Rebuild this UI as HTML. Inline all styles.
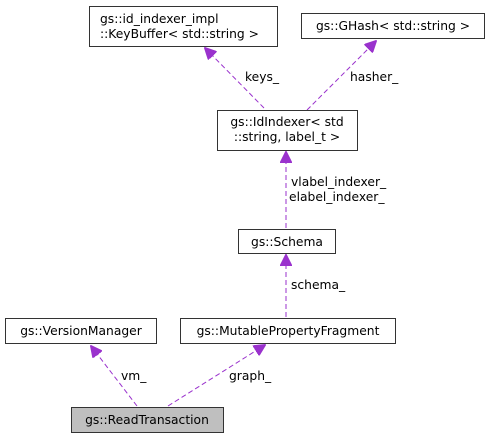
<!DOCTYPE html>
<html><head><meta charset="utf-8"><style>
html,body{margin:0;padding:0;background:#fff;width:489px;height:439px;overflow:hidden}
svg text{font-family:"DejaVu Sans","Liberation Sans",sans-serif;font-size:12.3px;fill:#000}
</style></head><body>
<svg width="489" height="439" viewBox="0 0 489 439" xmlns="http://www.w3.org/2000/svg">
<defs><marker id="a" markerWidth="12" markerHeight="12" refX="11" refY="6" orient="auto" markerUnits="userSpaceOnUse"><path d="M0,0 L12,6 L0,12 z" fill="#9a32cd" stroke="#9a32cd"/></marker></defs>
<g stroke="#9a32cd" stroke-width="1" stroke-dasharray="5,3" fill="none">
<line x1="264" y1="108" x2="205" y2="48" marker-end="url(#a)"/>
<line x1="307" y1="110" x2="376" y2="41" marker-end="url(#a)"/>
<line x1="286" y1="228" x2="286" y2="152" marker-end="url(#a)"/>
<line x1="286" y1="317" x2="286" y2="255" marker-end="url(#a)"/>
<line x1="137" y1="406" x2="91" y2="346" marker-end="url(#a)"/>
<line x1="168" y1="406" x2="265" y2="345" marker-end="url(#a)"/>
</g>
<g stroke="#333" stroke-width="1" fill="#fff">
<rect x="89.5" y="6.5" width="188" height="40"/>
<rect x="301.5" y="13.5" width="183" height="25"/>
<rect x="217.5" y="110.5" width="140" height="40"/>
<rect x="238.5" y="229.5" width="97" height="24"/>
<rect x="5.5" y="318.5" width="151" height="25"/>
<rect x="180.5" y="318.5" width="215" height="25"/>
<rect x="71.5" y="407.5" width="152" height="25" fill="#bfbfbf"/>
</g>
<text x="100" y="23">gs::id_indexer_impl</text>
<text x="100" y="38">::KeyBuffer&lt; std::string &gt;</text>
<text x="393" y="30" text-anchor="middle">gs::GHash&lt; std::string &gt;</text>
<text x="287" y="126" text-anchor="middle">gs::IdIndexer&lt; std</text>
<text x="287" y="141" text-anchor="middle">::string, label_t &gt;</text>
<text x="287" y="246" text-anchor="middle">gs::Schema</text>
<text x="81" y="335" text-anchor="middle">gs::VersionManager</text>
<text x="288" y="335" text-anchor="middle">gs::MutablePropertyFragment</text>
<text x="147" y="424" text-anchor="middle">gs::ReadTransaction</text>
<text x="245" y="81">keys_</text>
<text x="350" y="81">hasher_</text>
<text x="291" y="186">vlabel_indexer_</text>
<text x="289" y="201">elabel_indexer_</text>
<text x="291" y="289">schema_</text>
<text x="121" y="380">vm_</text>
<text x="229" y="380">graph_</text>
</svg>
</body></html>
